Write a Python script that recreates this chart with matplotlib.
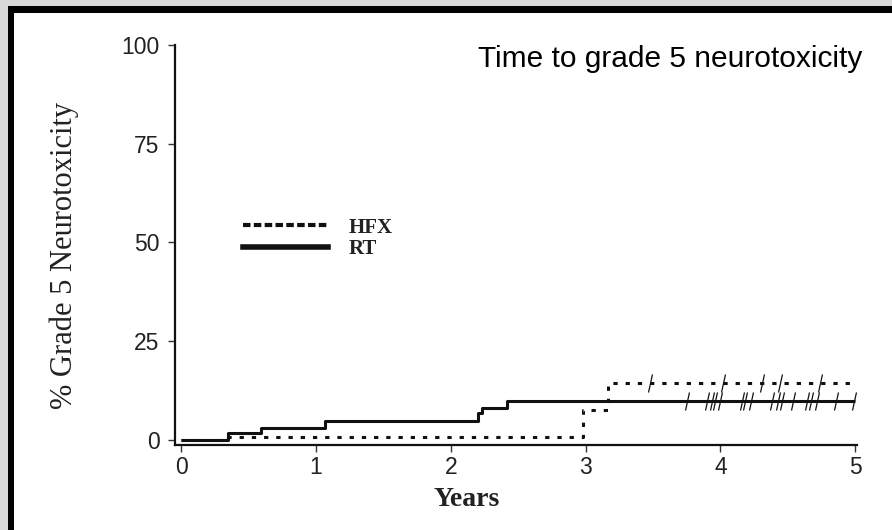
import numpy as np
import matplotlib
matplotlib.use("Agg")
import matplotlib.pyplot as plt
from matplotlib.lines import Line2D
from matplotlib.patches import Rectangle

# ---- data ----
rt_times = [0, 0.35, 0.59, 1.07, 2.20, 2.23, 2.42, 5.0]
rt_vals = [0, 1.8, 3.1, 4.8, 6.8, 8.1, 9.9, 9.9]
hfx_times = [0, 0.35, 2.98, 3.17, 5.0]
hfx_vals = [0, 0.8, 7.6, 14.4, 14.4]
rt_censor = [3.75, 3.90, 3.94, 3.96, 4.00, 4.16, 4.18, 4.23, 4.38, 4.43, 4.46,
             4.54, 4.64, 4.67, 4.72, 4.86, 4.99]
hfx_censor = [3.48, 4.02, 4.31, 4.44, 4.74]
x_ticks = [0, 1, 2, 3, 4, 5]
y_ticks = [0, 25, 50, 75, 100]
title_text = "Time to grade 5 neurotoxicity"
x_label = "Years"
y_label = "% Grade 5 Neurotoxicity"
series_names = ["HFX", "RT"]


def step_at(times, vals, t):
    idx = np.searchsorted(np.asarray(times), np.asarray(t), side="right") - 1
    return np.asarray(vals)[idx]


W, H = 892, 530
fig = plt.figure(figsize=(W / 100, H / 100), dpi=100)
fig.patch.set_facecolor("#d8d8d8")
# black frame and white interior
fig.patches.append(Rectangle((8 / W, 0), 1, (H - 6) / H, transform=fig.transFigure,
                             facecolor="black", edgecolor="none", zorder=-2))
fig.patches.append(Rectangle((14 / W, 0), 1, (H - 13) / H, transform=fig.transFigure,
                             facecolor="white", edgecolor="none", zorder=-1))

left, right, top, bottom = 175, 857, 45, 445
ax = fig.add_axes([left / W, (H - bottom) / H, (right - left) / W, (bottom - top) / H])
ax.set_facecolor("none")

ink = "#111111"
ax.plot(rt_times, rt_vals, drawstyle="steps-post", color=ink, lw=2.2,
        solid_capstyle="butt")
ax.plot(hfx_times, hfx_vals, drawstyle="steps-post", color=ink, lw=2.2,
        linestyle=(0, (1.4, 2.6)), dash_capstyle="butt")

slash = [(-0.22, -1.0), (0.22, 1.0)]
ax.plot(rt_censor, step_at(rt_times, rt_vals, rt_censor), linestyle="none",
        marker=slash, markersize=13, markeredgewidth=0.9, color=ink)
ax.plot(hfx_censor, step_at(hfx_times, hfx_vals, hfx_censor), linestyle="none",
        marker=slash, markersize=13, markeredgewidth=0.9, color=ink)

ax.set_xlim(-0.045, 5.013)
ax.set_ylim(-1.3, 100)
ax.set_xticks(x_ticks)
ax.set_yticks(y_ticks)
ax.set_xticklabels([str(v) for v in x_ticks])
ax.set_yticklabels([str(v) for v in y_ticks])
for s in ["top", "right"]:
    ax.spines[s].set_visible(False)
for s in ["left", "bottom"]:
    ax.spines[s].set_linewidth(1.6)
    ax.spines[s].set_color(ink)
ax.tick_params(axis="both", direction="out", length=5, width=1.0, color="#333333",
               labelsize=16.5, labelcolor="#222222")
ax.tick_params(axis="y", pad=6)
ax.tick_params(axis="x", pad=3)
for lab in ax.get_xticklabels() + ax.get_yticklabels():
    lab.set_family(["Liberation Sans", "DejaVu Sans"])

ax.set_xlabel(x_label, family=["Liberation Serif", "DejaVu Serif"], fontweight="bold",
              fontsize=20, color="#222222")
ax.xaxis.set_label_coords(0.427, -0.1375)
ax.xaxis.label.set_va("center")
ax.set_ylabel(y_label, family=["Liberation Serif", "DejaVu Serif"], fontsize=22,
              color="#222222")
ax.yaxis.set_label_coords(-0.163, 0.475)
ax.yaxis.label.set_va("center")

handles = [Line2D([], [], color=ink, lw=3.0, linestyle=(0, (1.8, 0.8))),
           Line2D([], [], color=ink, lw=4.0)]
leg = ax.legend(handles, series_names, loc="center left", bbox_to_anchor=(0.0997, 0.516),
                frameon=False, handlelength=4.1, handletextpad=0.95, labelspacing=0.08,
                borderpad=0, borderaxespad=0,
                prop={"family": ["Liberation Serif", "DejaVu Serif"], "weight": "bold",
                      "size": 15})
for t in leg.get_texts():
    t.set_color("#222222")

fig.text(862 / W, (H - 59) / H, title_text, ha="right", va="center",
         family=["Liberation Sans", "DejaVu Sans"], fontsize=21.5, color="black")

fig.savefig("out.png", dpi=100, facecolor=fig.get_facecolor())
